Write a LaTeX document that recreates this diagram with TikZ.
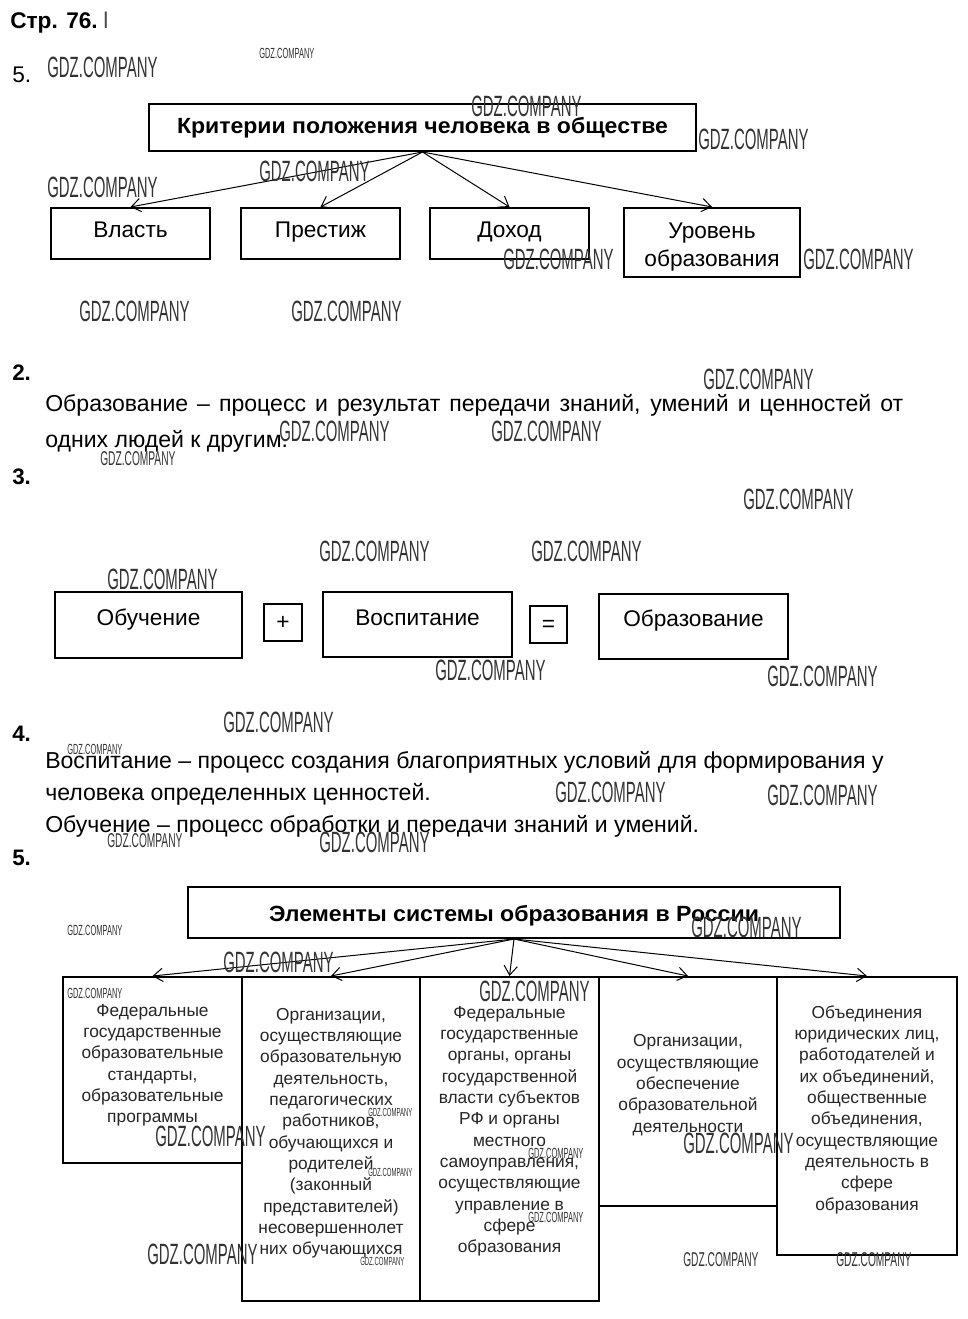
\documentclass[tikz,border=0pt]{standalone}
\usepackage{fontspec}
\setmainfont{Liberation Sans}
\usetikzlibrary{arrows.meta,fit}
\newcommand\gdz{\scalebox{0.51}[1]{GDZ.COMPANY}}
\begin{document}
\begin{tikzpicture}[x=0.75pt,y=-0.75pt,
 box/.style={draw,line width=1.5pt,inner sep=0pt},
 arr/.style={line width=0.75pt,-{Straight Barb[length=7pt,width=10pt]}},
 num/.style={anchor=base west,inner sep=0pt,font=\bfseries\fontsize{16.8}{20}\selectfont},
 body/.style={anchor=base west,inner sep=0pt,font=\fontsize{17.3}{20}\selectfont},
 lbl/.style={anchor=base,inner sep=0pt,align=center,font=\fontsize{17}{21}\selectfont},
 ttl/.style={anchor=base,inner sep=0pt,font=\bfseries\fontsize{16.5}{20}\selectfont},
 coltext/.style={anchor=base,inner sep=0pt,align=center,text=black!85,font=\fontsize{13}{16}\selectfont},
 wm/.style={anchor=west,inner sep=0pt,text=black!80},
 wmL/.style={wm,font=\fontsize{22}{22}\selectfont},
 wmM/.style={wm,font=\fontsize{15}{15}\selectfont},
 wmS/.style={wm,font=\fontsize{11}{11}\selectfont},
 wmT/.style={wm,font=\fontsize{8.8}{8.8}\selectfont},
]
\useasboundingbox[fill=white] (0,0) rectangle (967,1319);

% header
\node[anchor=base west,inner sep=0pt,font=\bfseries\fontsize{17}{20}\selectfont] (hdr) at (10,29) {Стр. 76.};
\node[anchor=base west,inner sep=0pt,text=black!70,font=\fontsize{17}{20}\selectfont] (hdrl) at (103,29) {l};
\node[anchor=base west,inner sep=0pt,font=\fontsize{17}{20}\selectfont] (n5a) at (12,83) {5.};

% section 1
\node[box,fit={(149,104) (696,151)}] (t1) {};
\node[ttl] (t1txt) at (422.5,134) {\scalebox{1.047}[1]{Критерии положения человека в обществе}};
\node[box,fit={(51,208) (210,259)}] (b1) {};
\node[box,fit={(241,208) (400,259)}] (b2) {};
\node[box,fit={(430,208) (589,259)}] (b3) {};
\node[box,fit={(624,208) (800,277)}] (b4) {};
\node[lbl] (b1t) at (130.5,238) {Власть};
\node[lbl] (b2t) at (320.5,238) {Престиж};
\node[lbl] (b3t) at (509.5,238) {Доход};
\node[lbl] (b4t) at (712,267) {Уровень\\образования};
\draw[arr] (t1.south) -- (b1.north);
\draw[arr] (t1.south) -- (b2.north);
\draw[arr] (t1.south) -- (b3.north);
\draw[arr] (t1.south) -- (b4.north);

% section 2
\node[num] (n2) at (12,380) {2.};
\node[body] (p2a) at (45,411) {\makebox[643.5pt][s]{Образование – процесс и результат передачи знаний, умений и ценностей от}};
\node[body] (p2b) at (45,447) {одних людей к другим.};

% section 3
\node[num] (n3) at (12,484) {3.};
\node[box,fit={(55,592) (242,658)}] (o1) {};
\node[box,fit={(264,604) (302,641)}] (plus) {};
\node[box,fit={(323,592) (512,657)}] (o2) {};
\node[box,fit={(530,606) (567,643)}] (eq) {};
\node[box,fit={(599,594) (788,659)}] (o3) {};
\node[lbl] (o1t) at (148.5,625) {Обучение};
\node[lbl] (plust) at (283,629) {+};
\node[lbl] (o2t) at (417.5,625) {Воспитание};
\node[lbl] (eqt) at (548.5,631) {=};
\node[lbl] (o3t) at (693.5,626) {Образование};

% section 4
\node[num] (n4) at (12,741) {4.};
\node[body] (p4a) at (45,768) {Воспитание – процесс создания благоприятных условий для формирования у};
\node[body] (p4b) at (45,800) {человека определенных ценностей.};
\node[body] (p4c) at (45,832) {Обучение – процесс обработки и передачи знаний и умений.};

% section 5
\node[num] (n5) at (12,865) {5.};
\node[box,fit={(188,887) (840,938)}] (t5) {};
\node[ttl] (t5txt) at (514,921) {\scalebox{1.05}[1]{Элементы системы образования в России}};
\node[box,fit={(63,977) (242,1163)}] (c1) {};
\node[box,fit={(242,977) (420,1301)}] (c2) {};
\node[box,fit={(420,977) (599,1301)}] (c3) {};
\node[box,fit={(599,977) (777,1206)}] (c4) {};
\node[box,fit={(777,977) (957,1255)}] (c5) {};
\draw[arr] (t5.south) -- (c1.north);
\draw[arr] (t5.south) -- (c2.north);
\draw[arr] (t5.south) -- (c3.north);
\draw[arr] (t5.south) -- (c4.north);
\draw[arr] (t5.south) -- (c5.north);
\node[coltext] (c1t) at (152.5,1122.7) {Федеральные\\государственные\\образовательные\\стандарты,\\образовательные\\программы};
\node[coltext] (c2t) at (331,1254.7) {Организации,\\осуществляющие\\образовательную\\деятельность,\\педагогических\\работников,\\обучающихся и\\родителей\\(законный\\представителей)\\несовершеннолет\\них обучающихся};
\node[coltext] (c3t) at (509.5,1252.7) {Федеральные\\государственные\\органы, органы\\государственной\\власти субъектов\\РФ и органы\\местного\\самоуправления,\\осуществляющие\\управление в\\сфере\\образования};
\node[coltext] (c4t) at (688,1132.3) {Организации,\\осуществляющие\\обеспечение\\образовательной\\деятельности};
\node[coltext] (c5t) at (867,1210) {Объединения\\юридических лиц,\\работодателей и\\их объединений,\\общественные\\объединения,\\осуществляющие\\деятельность в\\сфере\\образования};

% watermarks
\node[wmL] (w1) at (47,67) {\gdz};
\node[wmS] (w2) at (259,53) {\gdz};
\node[wmL] (w3) at (471,106) {\gdz};
\node[wmL] (w4) at (698,139) {\gdz};
\node[wmL] (w5) at (259,171) {\gdz};
\node[wmL] (w6) at (47,187) {\gdz};
\node[wmL] (w7) at (503,259) {\gdz};
\node[wmL] (w8) at (803,259) {\gdz};
\node[wmL] (w9) at (79,311) {\gdz};
\node[wmL] (w10) at (291,311) {\gdz};
\node[wmL] (w11) at (703,379) {\gdz};
\node[wmL] (w12) at (279,431) {\gdz};
\node[wmL] (w13) at (491,431) {\gdz};
\node[wmM] (w14) at (100,459) {\gdz};
\node[wmL] (w15) at (743,499) {\gdz};
\node[wmL] (w16) at (319,551) {\gdz};
\node[wmL] (w17) at (531,551) {\gdz};
\node[wmL] (w18) at (107,579) {\gdz};
\node[wmL] (w19) at (435,670) {\gdz};
\node[wmL] (w20) at (767,676) {\gdz};
\node[wmL] (w21) at (223,722) {\gdz};
\node[wmS] (w22) at (67,749) {\gdz};
\node[wmL] (w23) at (555,792) {\gdz};
\node[wmL] (w24) at (767,795) {\gdz};
\node[wmM] (w25) at (107,841) {\gdz};
\node[wmL] (w26) at (319,842) {\gdz};
\node[wmS] (w27) at (67,930) {\gdz};
\node[wmL] (w28) at (691,927) {\gdz};
\node[wmL] (w29) at (223,962) {\gdz};
\node[wmS] (w30) at (67,993) {\gdz};
\node[wmL] (w31) at (479,991) {\gdz};
\node[wmL] (w32) at (155,1136) {\gdz};
\node[wmT] (w33) at (368,1112) {\gdz};
\node[wmL] (w34) at (683,1143) {\gdz};
\node[wmT] (w35) at (368,1172) {\gdz};
\node[wmS] (w36) at (528,1153) {\gdz};
\node[wmS] (w37) at (528,1217) {\gdz};
\node[wmL] (w38) at (147,1254) {\gdz};
\node[wmT] (w39) at (360,1261) {\gdz};
\node[wmM] (w40) at (683,1260) {\gdz};
\node[wmM] (w41) at (836,1260) {\gdz};
\end{tikzpicture}
\end{document}
